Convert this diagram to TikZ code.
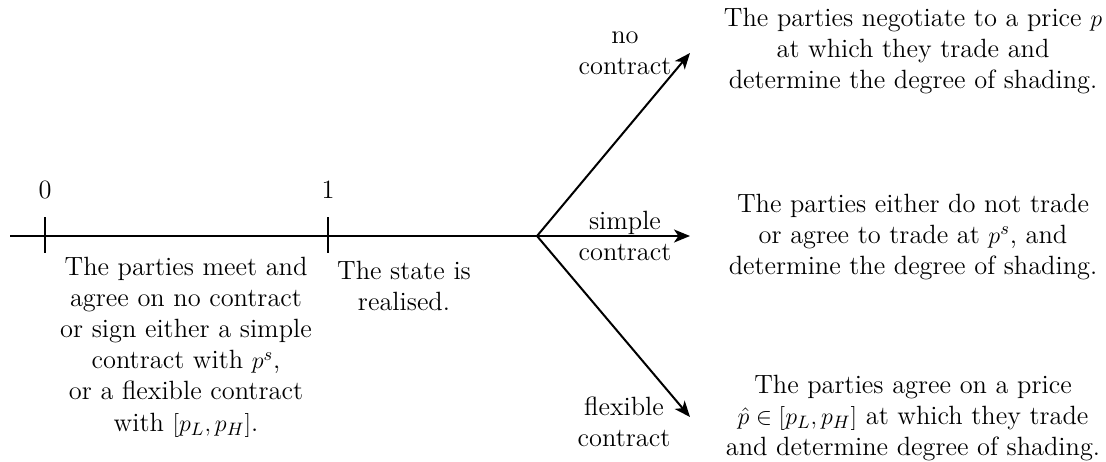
\documentclass[tikz,border=0pt]{standalone}
\usetikzlibrary{arrows.meta}
\tikzset{
  tl/.style={line width=1.1pt},
  arr/.style={line width=1pt,-{Stealth[length=8pt,width=6.5pt,inset=2.2pt]}},
  txt/.style={align=center,inner sep=0pt,font=\fontsize{13.2}{15.6}\selectfont},
}
\begin{document}
\begin{tikzpicture}[x=0.5pt,y=-0.5pt]
\useasboundingbox (0,0) rectangle (1106,461);
% timeline
\coordinate (s) at (10,236);
\coordinate (b) at (537,236);
\coordinate (t0a) at (45,217); \coordinate (t0b) at (45,253);
\coordinate (t1a) at (328,217); \coordinate (t1b) at (328,253);
\coordinate (eu) at (690,53);
\coordinate (em) at (690,236);
\coordinate (el) at (690,417);
\draw[tl] (s) -- (b);
\draw[tl] (t0a) -- (t0b);
\draw[tl] (t1a) -- (t1b);
\draw[arr] (b) -- (eu);
\draw[arr] (b) -- (em);
\draw[arr] (b) -- (el);
% labels
\node[txt] (l0) at (45,190) {0};
\node[txt] (l1) at (328,190) {1};
\node[txt] (d0) at (186,347) {The parties meet and\\ agree on no contract\\ or sign either a simple\\ contract with $p^s$,\\ or a flexible contract\\ with $[p_L,p_H]$.};
\node[txt] (d1) at (404,286) {The state is\\ realised.};
\node[txt] (bn) at (625,53) {no\\ contract};
\node[txt] (bs) at (625,236) {simple\\ contract};
\node[txt] (bf) at (624,422) {flexible\\ contract};
\node[txt] (ru) at (913,51) {The parties negotiate to a price $p$\\ at which they trade and\\ determine the degree of shading.};
\node[txt] (rm) at (913,237) {The parties either do not trade\\ or agree to trade at $p^s$, and\\ determine the degree of shading.};
\node[txt] (rl) at (913,418) {The parties agree on a price\\ $\hat p\in[p_L,p_H]$ at which they trade\\ and determine degree of shading.};
\end{tikzpicture}
\end{document}
